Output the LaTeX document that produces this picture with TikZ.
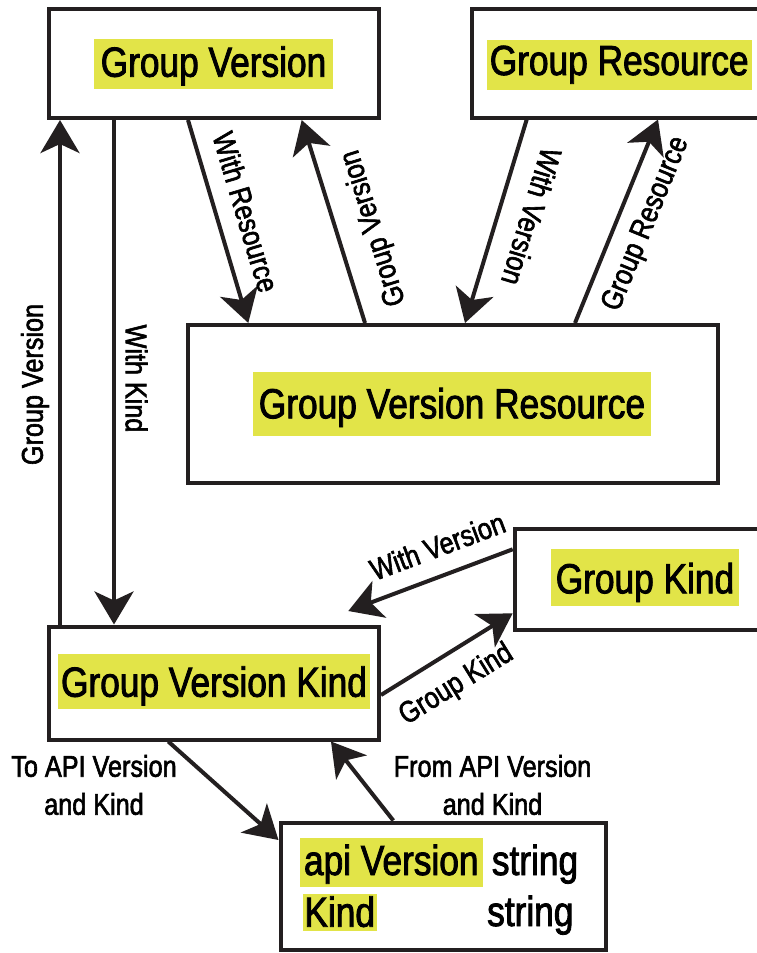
\documentclass[tikz,border=0pt]{standalone}
\usepackage{fontspec}
\setmainfont[FakeStretch=0.84,FakeBold=2]{Liberation Sans}
\usetikzlibrary{arrows.meta,calc}
\definecolor{ink}{HTML}{231F20}
\definecolor{hlcol}{RGB}{226,228,72}
\newcommand{\bigf}{\fontsize{42}{50}\selectfont}
\newcommand{\labf}{\fontsize{30}{38}\selectfont}
\begin{document}
\begin{tikzpicture}[x=1pt,y=-1pt,
  box/.style={draw=ink, line width=4pt, inner sep=0pt},
  hl/.style={fill=hlcol, inner sep=0pt, anchor=base, font=\bigf},
  lab/.style={font=\labf, inner sep=0pt},
  arr/.style={draw=ink, line width=4pt, -{Stealth[length=33pt,width=39pt,inset=9pt]}},
  ln/.style={draw=ink, line width=4pt}]
\useasboundingbox (0,0) rectangle (757,953);
\fill[white] (0,0) rectangle (757,953);
\clip (0,0) rectangle (757,953);
% boxes
\node[box, minimum width=330.3pt, minimum height=109.3pt] (gv) at (213.85,63.35) {};
\node[box, minimum width=295.5pt, minimum height=108.5pt] (gr) at (619.25,63.25) {};
\node[box, minimum width=529.7pt, minimum height=157.7pt] (gvr) at (452.85,403.85) {};
\node[box, minimum width=260.6pt, minimum height=101pt] (gk) at (645,579.2) {};
\node[box, minimum width=330.5pt, minimum height=113pt] (gvk) at (213.75,683) {};
\node[box, minimum width=325.8pt, minimum height=127.5pt] (api) at (443.4,886.25) {};
% highlighted titles
\node[hl, minimum width=239pt, text height=37.7pt, text depth=12.3pt] (gvt) at (213.5,76.7) {Group Version};
\node[hl, minimum width=265pt, text height=35pt, text depth=15pt] (grt) at (619.2,75) {Group Resource};
\node[hl, minimum width=398pt, text height=46.3pt, text depth=17.4pt] (gvrt) at (452,418.3) {Group Version Resource};
\node[hl, minimum width=188pt, text height=44pt, text depth=12.4pt] (gkt) at (645,593.3) {Group Kind};
\node[hl, minimum width=312pt, text height=42.7pt, text depth=12.3pt] (gvkt) at (214,696.7) {Group Version Kind};
\node[hl, minimum width=182.7pt, text height=36.7pt, text depth=12.3pt] (apit) at (391.3,875) {api Version};
\node[hl, minimum width=74pt, text height=32.7pt, text depth=4pt] (kindt) at (339.7,926.7) {Kind};
\node[anchor=base west, inner sep=0pt, font=\bigf] (s1) at (491.7,875) {string};
\node[anchor=base west, inner sep=0pt, font=\bigf] (s2) at (487,926) {string};
% connectors
\draw[arr] ($(gvk.north west)+(13.5,0)$) -- ($(gv.south west)+(13.3,0)$);
\draw[arr] ($(gv.south west)+(67.3,0)$) -- ($(gvk.north west)+(67.5,0)$);
\draw[arr] ($(gv.south west)+(141.3,0)$) -- ($(gvr.north west)+(62.3,0)$);
\draw[arr] ($(gvr.north west)+(179,0)$) -- ($(gv.south west)+(255,0)$);
\draw[arr] ($(gr.south west)+(57.2,0)$) -- ($(gvr.north west)+(279,0)$);
\draw[arr] ($(gvr.north west)+(389,0)$) -- ($(gr.south west)+(188.5,0)$);
\draw[arr] ($(gk.north west)+(0,22.6)$) -- ($(gvk.north east)+(-32.7,-13.5)$);
\draw[arr] ($(gvk.north east)+(0,70.5)$) -- ($(gk.north west)+(0,86.6)$);
\draw[arr] ($(gvk.south west)+(121.8,0)$) -- ($(api.north west)+(0,19.5)$);
\draw[arr] ($(api.north west)+(114.8,0)$) -- ($(gvk.south west)+(284.5,0)$);
% labels
\node[lab, rotate=90] (l1) at (35,384.5) {Group Version};
\node[lab, rotate=-90] (l2) at (136.5,378.5) {With Kind};
\node[lab, rotate=-73.45] (l3) at (246,212) {With Resource};
\node[lab, rotate=107.3] (l4) at (374,228) {Group Version};
\node[lab, rotate=-106.9] (l5) at (531.7,216.7) {With Version};
\node[lab, rotate=67.8] (l6) at (646.5,224) {Group Resource};
\node[lab, rotate=20.57] (l7) at (437.5,546) {With Version};
\node[lab, rotate=31.8] (l8) at (456.5,685) {Group Kind};
\node[lab, align=center] (l9) at (94,785) {To API Version\\and Kind};
\node[lab, align=center] (l10) at (492.5,785) {From API Version\\and Kind};
\end{tikzpicture}
\end{document}
